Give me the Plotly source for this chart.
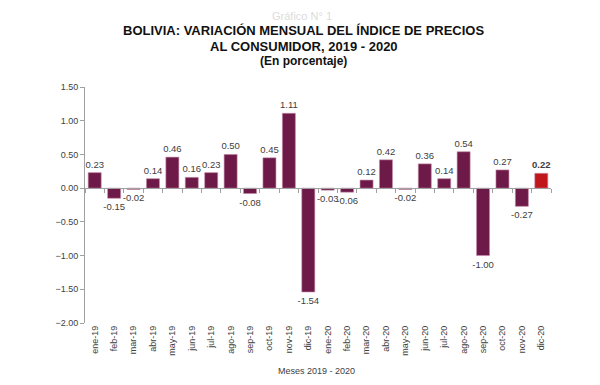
import plotly.graph_objects as go

categories = ["ene-19", "feb-19", "mar-19", "abr-19", "may-19", "jun-19", "jul-19", "ago-19",
              "sep-19", "oct-19", "nov-19", "dic-19", "ene-20", "feb-20", "mar-20", "abr-20",
              "may-20", "jun-20", "jul-20", "ago-20", "sep-20", "oct-20", "nov-20", "dic-20"]
values = [0.23, -0.15, -0.02, 0.14, 0.46, 0.16, 0.23, 0.50, -0.08, 0.45, 1.11, -1.54,
          -0.03, -0.06, 0.12, 0.42, -0.02, 0.36, 0.14, 0.54, -1.00, 0.27, -0.27, 0.22]
y_ticks = [1.5, 1.0, 0.5, 0.0, -0.5, -1.0, -1.5, -2.0]

MAROON = "#6d1a48"
RED = "#c0171c"
colors = [MAROON] * (len(values) - 1) + [RED]
labels = [f"{v:.2f}" for v in values]
labels[-1] = f"<b>{labels[-1]}</b>"

y_min, y_max = -2.0, 1.5
zero_pos = (0 - y_min) / (y_max - y_min)

# page has an 8px body margin; figure size compensates
W, H = 592, 377
L, R, T, B = 77, 49, 79, 62
plot_h = H - T - B
plot_w = W - L - R

def py(page_y):
    return (H - B - (page_y - 8)) / plot_h

def px(page_x):
    return ((page_x - 8) - L) / plot_w

fig = go.Figure()
fig.add_trace(go.Bar(
    x=categories, y=values,
    marker=dict(color=colors, line=dict(color="#c88aa8", width=0.6)),
    text=labels, textposition="outside", cliponaxis=False,
    textfont=dict(family="Liberation Sans, Arial", size=9.5, color="#404040"),
    constraintext="none",
    showlegend=False,
))
# invisible trace carrying the zero axis line with boundary ticks
fig.add_trace(go.Scatter(x=categories, y=[0] * len(categories), xaxis="x2", yaxis="y",
                         mode="markers", marker=dict(opacity=0), showlegend=False,
                         hoverinfo="skip"))

fig.update_layout(
    width=W, height=H,
    margin=dict(l=L, r=R, t=T, b=B, autoexpand=False),
    paper_bgcolor="white", plot_bgcolor="white",
    bargap=0.33,
    font=dict(family="Liberation Sans, Arial", color="#404040"),
    xaxis=dict(
        type="category", categoryorder="array", categoryarray=categories,
        showline=False, showgrid=False, zeroline=False, ticks="",
        tickangle=-90, tickfont=dict(size=9, color="#404040"),
        range=[-0.5, len(categories) - 0.5], automargin=False,
    ),
    xaxis2=dict(
        type="category", categoryorder="array", categoryarray=categories,
        overlaying="x", anchor="free", position=zero_pos,
        showline=True, linecolor="#a0a0a0", linewidth=1,
        ticks="outside", tickson="boundaries", ticklen=4, tickcolor="#a0a0a0",
        showticklabels=False, showgrid=False, zeroline=False,
        range=[-0.5, len(categories) - 0.5],
    ),
    yaxis=dict(
        range=[y_min, y_max], tickvals=y_ticks, tickformat=".2f",
        showline=True, linecolor="#a0a0a0", linewidth=1,
        ticks="outside", ticklen=4, tickcolor="#a0a0a0",
        showgrid=False, zeroline=False, automargin=False,
        tickfont=dict(size=9, color="#404040"),
    ),
    annotations=[
        dict(text="Gráfico N° 1", x=px(302), y=py(16), xref="paper", yref="paper",
             showarrow=False, font=dict(size=11, color="#dcdcdc"),
             xanchor="center", yanchor="middle"),
        dict(text="<b>BOLIVIA: VARIACIÓN MENSUAL DEL ÍNDICE DE PRECIOS</b>", showarrow=False,
             xref="paper", yref="paper", x=px(303), y=py(31),
             xanchor="center", yanchor="middle", font=dict(size=13, color="#111111")),
        dict(text="<b>AL CONSUMIDOR, 2019 - 2020</b>", showarrow=False,
             xref="paper", yref="paper", x=px(304), y=py(46),
             xanchor="center", yanchor="middle", font=dict(size=13, color="#111111")),
        dict(text="<b>(En porcentaje)</b>", showarrow=False,
             xref="paper", yref="paper", x=px(303), y=py(61),
             xanchor="center", yanchor="middle", font=dict(size=12, color="#111111")),
        dict(text="Meses 2019 - 2020", showarrow=False,
             xref="paper", yref="paper", x=px(316), y=py(371),
             xanchor="center", yanchor="middle", font=dict(size=9, color="#404040")),
    ],
)

fig.write_html("out.html")
